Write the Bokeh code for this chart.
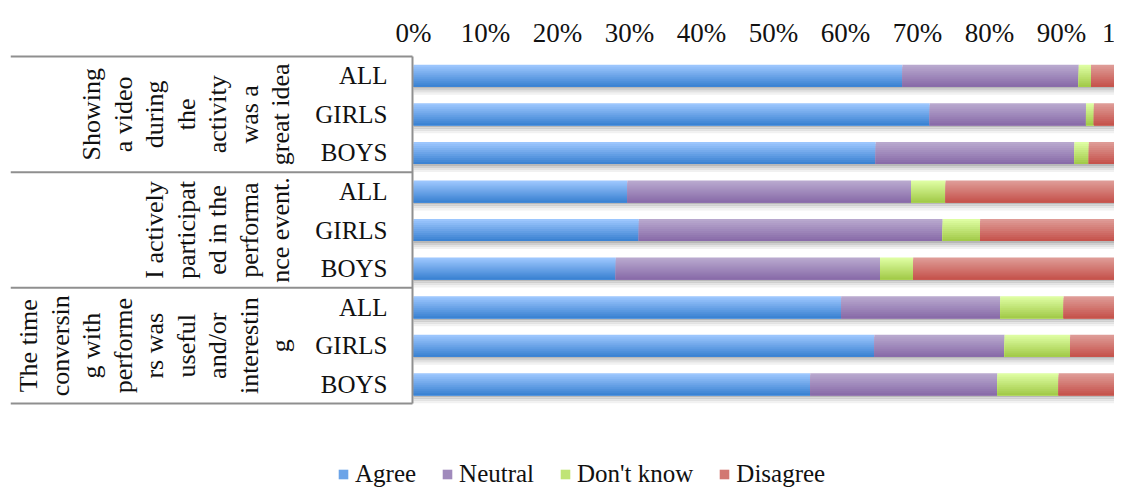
import numpy as np
from bokeh.plotting import figure
from bokeh.models import Range1d, Legend, LegendItem, ColumnDataSource
from bokeh.core.properties import value
from bokeh.embed import file_html
from bokeh.resources import INLINE

# ---------------- data ----------------
group_lines = [
    ["Showing", "a video", "during", "the", "activity", "was a", "great idea"],
    ["I actively", "participat", "ed in the", "performa", "nce event."],
    ["The time", "conversin", "g with", "performe", "rs was", "useful",
     "and/or", "interestin", "g"],
]
subgroups = ["ALL", "GIRLS", "BOYS"]
series = ["Agree", "Neutral", "Don't know", "Disagree"]

agree      = [67.9, 71.7, 64.2, 29.7, 31.3, 28.1, 59.4, 64.0, 55.1]
neutral    = [24.5, 21.7, 27.6, 39.4, 42.2, 36.7, 22.1, 18.1, 26.0]
dont_know  = [1.7, 1.1, 2.0, 4.8, 5.2, 4.6, 8.8, 9.1, 8.5]
disagree   = [5.9, 5.5, 6.2, 26.1, 21.3, 30.6, 9.7, 8.8, 10.4]

tick_values = [0, 10, 20, 30, 40, 50, 60, 70, 80, 90, 100]
tick_labels = ["0%", "10%", "20%", "30%", "40%", "50%", "60%", "70%", "80%",
               "90%", "100%"]

# ---------------- style / layout ----------------
FONT = "Liberation Serif"
top_colors = [(156, 198, 253), (184, 168, 206), (222, 253, 162), (222, 155, 150)]
bot_colors = [(60, 131, 211), (137, 108, 169), (163, 203, 74), (198, 84, 77)]

PX_PER_PCT = 7.2
ZERO_PX = 413.0
FRAME_L = 10
FRAME_R = 1114
H = 488
ROW_TOP_PX = 56.0
ROW_PX = 38.56

def px2x(px):
    return (px - ZERO_PX) / PX_PER_PCT

def px2y(py):
    return (py - ROW_TOP_PX) / ROW_PX

n_rows = len(agree)

p = figure(width=FRAME_R, height=H,
           x_range=Range1d(px2x(FRAME_L), px2x(FRAME_R)),
           y_range=Range1d(px2y(H), px2y(0)),
           x_axis_location=None, y_axis_location=None,
           min_border_left=FRAME_L, min_border_right=0,
           min_border_top=0, min_border_bottom=0,
           output_backend="svg", toolbar_location=None)
p.xgrid.visible = False
p.ygrid.visible = False
p.outline_line_color = None
p.background_fill_color = "white"
p.border_fill_color = "white"

# percentage scale labels along the top (clipped at the right edge as in the original)
p.text(x=tick_values, y=[px2y(32)] * len(tick_values), text=tick_labels,
       text_align="center", text_baseline="alphabetic",
       text_font=value(FONT), text_font_size="27px", text_color="#111111")

# ---------------- bars ----------------
vals = np.array([agree, neutral, dont_know, disagree], dtype=float)
cum = np.cumsum(vals, axis=0)
lefts = np.vstack([np.zeros(n_rows), cum[:-1]])
rights = cum
centers = np.arange(n_rows) + 0.5
bar_h = 22.0 / ROW_PX
N_STRIP = 11
strip_h = bar_h / N_STRIP

# soft shadow under each bar
shadow_cols = ["#b8b8b8", "#cfcfcf", "#e2e2e2", "#f1f1f1"]
for k, c in enumerate(shadow_cols):
    off = bar_h / 2 + (k + 0.5) * (2.0 / ROW_PX)
    p.hbar(y=centers + off, left=np.zeros(n_rows), right=cum[-1] + 0.3,
           height=2.0 / ROW_PX, fill_color=c, line_color=None)

def mix(a, b, t):
    return "#%02x%02x%02x" % tuple(int(round(a[i] + (b[i] - a[i]) * t)) for i in range(3))

legend_renderers = []
for s in range(len(series)):
    mid_r = None
    for k in range(N_STRIP):
        t = k / (N_STRIP - 1)
        col = mix(top_colors[s], bot_colors[s], t)
        hh = bar_h - k * strip_h
        yy = centers - bar_h / 2 + k * strip_h + hh / 2
        src = ColumnDataSource(dict(y=yy, left=lefts[s], right=rights[s]))
        r = p.hbar(y="y", left="left", right="right", height=hh,
                   source=src, fill_color=col, line_color=None)
        if k == N_STRIP // 2:
            mid_r = r
    legend_renderers.append(mid_r)

# ---------------- category table (left) ----------------
line_col = "#8f8f8f"
bounds = [0, 3, 6, 9]
p.segment(x0=[px2x(FRAME_L)] * len(bounds), x1=[px2x(ZERO_PX - 1)] * len(bounds),
          y0=bounds, y1=bounds, line_color=line_col, line_width=2)
p.segment(x0=[px2x(ZERO_PX - 1)], x1=[px2x(ZERO_PX - 1)], y0=[0], y1=[9],
          line_color=line_col, line_width=2)

sub_labels = [subgroups[i % 3] for i in range(n_rows)]
p.text(x=[px2x(387)] * n_rows, y=centers, text=sub_labels,
       text_align="right", text_baseline="middle",
       text_font=value(FONT), text_font_size="25px", text_color="#111111")

gx, gy, gt = [], [], []
for g, lines in enumerate(group_lines):
    n = len(lines)
    for j, ln in enumerate(lines):
        gx.append(px2x(280 - (n - 1 - j) * 31.5))
        gy.append(g * 3 + 1.5)
        gt.append(ln)
p.text(x=gx, y=gy, text=gt, angle=np.pi / 2, text_align="center",
       text_baseline="middle", text_font=value(FONT), text_font_size="26px",
       text_color="#111111")

# ---------------- legend ----------------
legend = Legend(items=[LegendItem(label=series[i], renderers=[legend_renderers[i]])
                       for i in range(len(series))],
                orientation="horizontal", location=(327, 0),
                glyph_width=12, glyph_height=12, label_standoff=6, spacing=25,
                padding=0, margin=0, border_line_color=None,
                background_fill_alpha=0,
                label_text_font=FONT, label_text_font_size="25px",
                label_text_color="#111111")
p.add_layout(legend)

open("out.html", "w").write(file_html(p, INLINE))
